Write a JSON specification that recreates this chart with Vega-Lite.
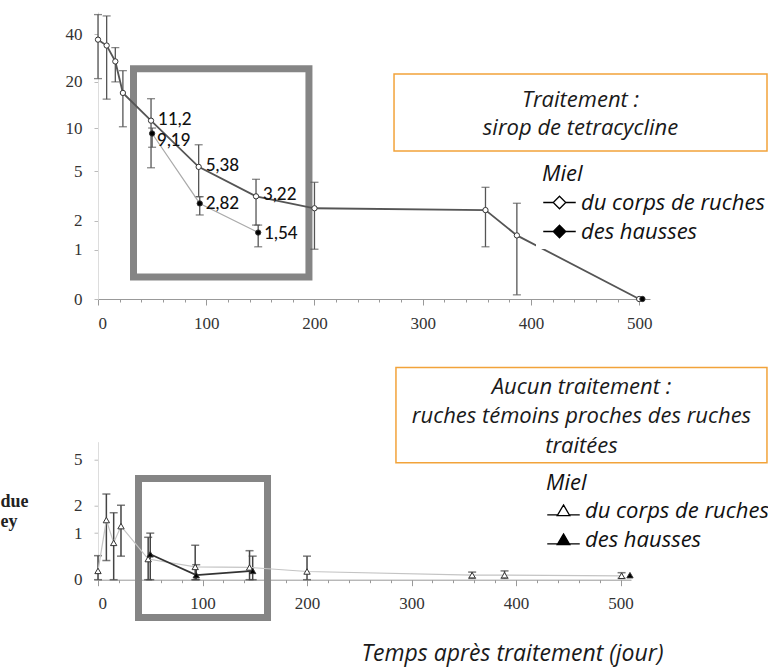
{
  "$schema": "https://vega.github.io/schema/vega-lite/v6.json",
  "padding": {"left": 0, "top": 12, "right": 0, "bottom": 4},
  "autosize": {"type": "pad"},
  "background": "white",
  "spacing": 142.7,
  "bounds": "flush",
  "datasets": {
    "trt": [
      {"t": 0, "v": 37, "lo": 21, "hi": 53, "s": "du corps de ruches"},
      {"t": 8, "v": 34, "lo": 15.5, "hi": 52, "s": "du corps de ruches"},
      {"t": 16, "v": 27, "lo": 20, "hi": 33, "s": "du corps de ruches"},
      {"t": 23, "v": 17, "lo": 10.2, "hi": 23.6, "s": "du corps de ruches"},
      {"t": 49, "v": 11.2, "lo": 5.3, "hi": 15.6, "s": "du corps de ruches", "label": "11,2"},
      {"t": 93, "v": 5.38, "lo": 3.2, "hi": 7.7, "s": "du corps de ruches", "label": "5,38"},
      {"t": 146, "v": 3.22, "lo": 1.82, "hi": 4.36, "s": "du corps de ruches", "label": "3,22"},
      {"t": 200, "v": 2.57, "lo": 1.01, "hi": 4.14, "s": "du corps de ruches"},
      {"t": 358, "v": 2.48, "lo": 1.08, "hi": 3.79, "s": "du corps de ruches"},
      {"t": 387, "v": 1.44, "lo": 0.06, "hi": 2.83, "s": "du corps de ruches"},
      {"t": 500, "v": 0, "s": "du corps de ruches"},
      {"t": 50, "v": 9.19, "lo": 7.4, "hi": 10, "s": "des hausses", "label": "9,19"},
      {"t": 94, "v": 2.82, "lo": 2.25, "hi": 3.2, "s": "des hausses", "label": "2,82"},
      {"t": 148, "v": 1.54, "lo": 1.08, "hi": 1.82, "s": "des hausses", "label": "1,54"},
      {"t": 503, "v": 0, "s": "des hausses"}
    ],
    "ctl": [
      {"t": 0, "v": 0.14, "lo": 0, "hi": 0.43, "s": "du corps de ruches"},
      {"t": 8, "v": 1.43, "lo": 0.33, "hi": 2.58, "s": "du corps de ruches"},
      {"t": 15, "v": 0.73, "lo": 0, "hi": 1.71, "s": "du corps de ruches"},
      {"t": 22, "v": 1.22, "lo": 0.42, "hi": 2.03, "s": "du corps de ruches"},
      {"t": 48, "v": 0.36, "lo": 0, "hi": 0.88, "s": "du corps de ruches"},
      {"t": 93, "v": 0.21, "lo": 0, "hi": 0.67, "s": "du corps de ruches"},
      {"t": 145, "v": 0.2, "lo": 0, "hi": 0.54, "s": "du corps de ruches"},
      {"t": 200, "v": 0.13, "lo": 0, "hi": 0.42, "s": "du corps de ruches"},
      {"t": 358, "v": 0.07, "lo": 0.02, "hi": 0.12, "s": "du corps de ruches"},
      {"t": 389, "v": 0.07, "lo": 0.02, "hi": 0.14, "s": "du corps de ruches"},
      {"t": 501, "v": 0.06, "lo": 0.02, "hi": 0.11, "s": "du corps de ruches"},
      {"t": 50, "v": 0.46, "lo": 0, "hi": 1.0, "s": "des hausses"},
      {"t": 94, "v": 0.07, "lo": 0, "hi": 0.25, "s": "des hausses"},
      {"t": 148, "v": 0.14, "lo": 0, "hi": 0.42, "s": "des hausses"},
      {"t": 509, "v": 0.07, "s": "des hausses"}
    ]
  },
  "vconcat": [
    {
      "width": 552,
      "height": 287,
      "data": {"name": "trt"},
      "resolve": {"axis": {"x": "independent"}},
      "layer": [
        {
          "layer": [
            {
              "data": {"values": [{}]},
              "mark": {"type": "rect", "fill": null, "stroke": "#858585", "strokeWidth": 7},
              "encoding": {"x": {"datum": 32.8}, "x2": {"datum": 194.9}, "y": {"datum": 24.3}, "y2": {"datum": 0.361}}
            },
            {
              "data": {"values": [{}]},
              "mark": {"type": "rect", "fill": "white", "stroke": "#f2a33a", "strokeWidth": 1.5},
              "encoding": {"x": {"datum": 273.5}, "x2": {"datum": 618.1}, "y": {"datum": 22.5}, "y2": {"datum": 6.97}}
            },
            {
              "data": {"values": [{}]},
              "mark": {"type": "text", "text": ["Traitement :", "sirop de tetracycline"], "font": "Open Sans", "fontStyle": "italic", "fontSize": 22, "lineHeight": 28, "align": "center", "baseline": "middle", "color": "#1a1a1a"},
              "encoding": {"x": {"datum": 445.8}, "y": {"datum": 15.29}}
            },
            {
              "transform": [{"filter": "isValid(datum.lo)"}],
              "mark": {"type": "rule", "color": "#555", "strokeWidth": 1.3},
              "encoding": {
                "x": {"field": "t", "type": "quantitative", "scale": {"domain": [0, 510], "nice": false},
                  "axis": {"orient": "bottom", "values": [0, 100, 200, 300, 400, 500], "title": null, "labelPadding": 10, "tickSize": 6, "domainColor": "#999", "tickColor": "#999"}},
                "y": {"field": "lo", "type": "quantitative", "scale": {"type": "symlog", "constant": 1, "domain": [0, 55], "nice": false},
                  "axis": {"values": [0, 1, 2, 5, 10, 20, 40], "title": null, "labelPadding": 12, "domainColor": "#ddd", "tickColor": "#bbb"}},
                "y2": {"field": "hi"}
              }
            },
            {
              "transform": [{"filter": "isValid(datum.lo)"}],
              "mark": {"type": "tick", "orient": "horizontal", "size": 8, "thickness": 1.3, "color": "#555"},
              "encoding": {"x": {"field": "t", "type": "quantitative"}, "y": {"field": "lo", "type": "quantitative"}}
            },
            {
              "transform": [{"filter": "isValid(datum.hi)"}],
              "mark": {"type": "tick", "orient": "horizontal", "size": 8, "thickness": 1.3, "color": "#555"},
              "encoding": {"x": {"field": "t", "type": "quantitative"}, "y": {"field": "hi", "type": "quantitative"}}
            },
            {
              "transform": [{"filter": "datum.s === 'du corps de ruches'"}],
              "mark": {"type": "line", "color": "#555", "strokeWidth": 1.8},
              "encoding": {"x": {"field": "t", "type": "quantitative"}, "y": {"field": "v", "type": "quantitative"}}
            },
            {
              "transform": [{"filter": "datum.s === 'des hausses' && datum.t < 400"}],
              "mark": {"type": "line", "color": "#aaa", "strokeWidth": 1.2},
              "encoding": {"x": {"field": "t", "type": "quantitative"}, "y": {"field": "v", "type": "quantitative"}}
            },
            {
              "mark": {"type": "point", "shape": "circle", "filled": true, "size": 28, "stroke": "#333", "strokeWidth": 1, "opacity": 1},
              "encoding": {
                "x": {"field": "t", "type": "quantitative"},
                "y": {"field": "v", "type": "quantitative"},
                "fill": {"field": "s", "type": "nominal",
                  "scale": {"domain": ["du corps de ruches", "des hausses"], "range": ["white", "black"]},
                  "legend": {"title": "Miel", "legendX": 438, "legendY": 146,
                    "symbolType": "M-1.3,0L-0.5,0M0,-0.5L0.5,0L0,0.5L-0.5,0ZM0.5,0L1.3,0"}}
              }
            },
            {
              "transform": [{"filter": "isValid(datum.label) && datum.s === 'du corps de ruches'"}],
              "mark": {"type": "text", "align": "left", "baseline": "middle", "dx": 7, "dy": -1, "font": "Lato", "fontSize": 17, "fontWeight": 500, "color": "#111"},
              "encoding": {"x": {"field": "t", "type": "quantitative"}, "y": {"field": "v", "type": "quantitative"}, "text": {"field": "label"}}
            },
            {
              "transform": [{"filter": "isValid(datum.label) && datum.s === 'des hausses' && datum.t > 60"}],
              "mark": {"type": "text", "align": "left", "baseline": "middle", "dx": 6, "dy": 1, "font": "Lato", "fontSize": 17, "fontWeight": 500, "color": "#111"},
              "encoding": {"x": {"field": "t", "type": "quantitative"}, "y": {"field": "v", "type": "quantitative"}, "text": {"field": "label"}}
            },
            {
              "transform": [{"filter": "isValid(datum.label) && datum.s === 'des hausses' && datum.t < 60"}],
              "mark": {"type": "text", "align": "left", "baseline": "middle", "dx": 5, "dy": 8, "font": "Lato", "fontSize": 17, "fontWeight": 500, "color": "#111"},
              "encoding": {"x": {"field": "t", "type": "quantitative"}, "y": {"field": "v", "type": "quantitative"}, "text": {"field": "label"}}
            }
          ]
        },
        {
          "mark": {"type": "rule", "opacity": 0},
          "encoding": {
            "x": {"field": "t", "type": "quantitative",
              "axis": {"orient": "bottom", "values": [20, 40, 60, 80, 120, 140, 160, 180, 220, 240, 260, 280, 320, 340, 360, 380, 420, 440, 460, 480],
                "labels": false, "domain": false, "tickSize": 3, "tickColor": "#999", "title": null}}
          }
        }
      ]
    },
    {
      "width": 533,
      "height": 138,
      "data": {"name": "ctl"},
      "resolve": {"axis": {"x": "independent"}},
      "layer": [
        {
          "layer": [
            {
              "data": {"values": [{}]},
              "mark": {"type": "rect", "fill": null, "stroke": "#858585", "strokeWidth": 7},
              "encoding": {"x": {"datum": 38.75}, "x2": {"datum": 162.2}, "y": {"datum": 3.51}, "y2": {"datum": -0.755}}
            },
            {
              "data": {"values": [{}]},
              "mark": {"type": "rect", "fill": "white", "stroke": "#f2a33a", "strokeWidth": 1.5},
              "encoding": {"x": {"datum": 285.1}, "x2": {"datum": 640.1}, "y": {"datum": 22.5}, "y2": {"datum": 4.71}}
            },
            {
              "data": {"values": [{}]},
              "mark": {"type": "text", "text": ["Aucun traitement :", "ruches témoins proches des ruches", "traitées"], "font": "Open Sans", "fontStyle": "italic", "fontSize": 22, "lineHeight": 29.7, "align": "center", "baseline": "middle", "color": "#1a1a1a"},
              "encoding": {"x": {"datum": 462.6}, "y": {"datum": 16.69}}
            },
            {
              "transform": [{"filter": "isValid(datum.lo)"}],
              "mark": {"type": "rule", "color": "#444", "strokeWidth": 1.5},
              "encoding": {
                "x": {"field": "t", "type": "quantitative", "scale": {"domain": [0, 510], "nice": false},
                  "axis": {"orient": "bottom", "values": [0, 100, 200, 300, 400, 500], "labelPadding": 10, "tickSize": 6, "domainColor": "#999", "tickColor": "#999",
                    "title": "Temps après traitement (jour)", "titleX": 414, "titleY": 74, "titleAlign": "center", "titleBaseline": "middle",
                    "titleFont": "Open Sans", "titleFontStyle": "italic", "titleFontWeight": "normal", "titleFontSize": 23, "titleColor": "#1a1a1a"}},
                "y": {"field": "lo", "type": "quantitative", "scale": {"type": "symlog", "constant": 1, "domain": [0, 6.8], "nice": false},
                  "axis": {"values": [0, 1, 2, 5], "labelPadding": 12, "domainColor": "#ddd", "tickColor": "#bbb",
                    "title": ["due", "ey"], "titleAngle": 0, "titleAlign": "left", "titleBaseline": "alphabetic", "titleX": -98, "titleY": 65,
                    "titleFont": "Liberation Serif", "titleFontWeight": "bold", "titleFontSize": 18, "titleLineHeight": 20, "titleColor": "#222"}},
                "y2": {"field": "hi"}
              }
            },
            {
              "transform": [{"filter": "isValid(datum.lo)"}],
              "mark": {"type": "tick", "orient": "horizontal", "size": 8, "thickness": 1.5, "color": "#444"},
              "encoding": {"x": {"field": "t", "type": "quantitative"}, "y": {"field": "lo", "type": "quantitative"}}
            },
            {
              "transform": [{"filter": "isValid(datum.hi)"}],
              "mark": {"type": "tick", "orient": "horizontal", "size": 8, "thickness": 1.5, "color": "#444"},
              "encoding": {"x": {"field": "t", "type": "quantitative"}, "y": {"field": "hi", "type": "quantitative"}}
            },
            {
              "transform": [{"filter": "datum.s === 'du corps de ruches'"}],
              "mark": {"type": "line", "color": "#c4c4c4", "strokeWidth": 1.2},
              "encoding": {"x": {"field": "t", "type": "quantitative"}, "y": {"field": "v", "type": "quantitative"}}
            },
            {
              "transform": [{"filter": "datum.s === 'des hausses' && datum.t < 400"}],
              "mark": {"type": "line", "color": "#333", "strokeWidth": 1.8},
              "encoding": {"x": {"field": "t", "type": "quantitative"}, "y": {"field": "v", "type": "quantitative"}}
            },
            {
              "mark": {"type": "point", "shape": "triangle-up", "filled": true, "size": 40, "stroke": "#333", "strokeWidth": 1, "opacity": 1},
              "encoding": {
                "x": {"field": "t", "type": "quantitative"},
                "y": {"field": "v", "type": "quantitative"},
                "fill": {"field": "s", "type": "nominal",
                  "scale": {"domain": ["du corps de ruches", "des hausses"], "range": ["white", "black"]},
                  "legend": {"title": "Miel", "legendX": 442, "legendY": 25,
                    "symbolType": "M-1.3,0.3L-0.5,0.3M0.5,0.3L1.3,0.3M0,-0.5L0.5,0.35L-0.5,0.35Z"}}
              }
            }
          ]
        },
        {
          "mark": {"type": "rule", "opacity": 0},
          "encoding": {
            "x": {"field": "t", "type": "quantitative",
              "axis": {"orient": "bottom", "values": [20, 40, 60, 80, 120, 140, 160, 180, 220, 240, 260, 280, 320, 340, 360, 380, 420, 440, 460, 480],
                "labels": false, "domain": false, "tickSize": 3, "tickColor": "#999", "title": null}}
          }
        }
      ]
    }
  ],
  "resolve": {"scale": {"fill": "independent"}, "legend": {"fill": "independent"}},
  "config": {
    "view": {"stroke": null},
    "axis": {"grid": false, "labelFont": "Liberation Serif", "labelFontSize": 17, "labelColor": "#333", "domainColor": "#b0b0b0", "tickColor": "#b0b0b0", "tickSize": 4},
    "legend": {"orient": "none", "padding": 6, "fillColor": "white", "symbolSize": 625, "symbolStrokeColor": "black", "symbolStrokeWidth": 1.3,
      "symbolOffset": 4, "labelOffset": 8, "labelFont": "Open Sans", "labelFontSize": 22, "labelFontStyle": "italic", "labelColor": "#111",
      "titleFont": "Open Sans", "titleFontSize": 22, "titleFontStyle": "italic", "titleFontWeight": "normal", "titleColor": "#111",
      "titlePadding": 3, "rowPadding": 4, "labelLimit": 400}
  }
}
